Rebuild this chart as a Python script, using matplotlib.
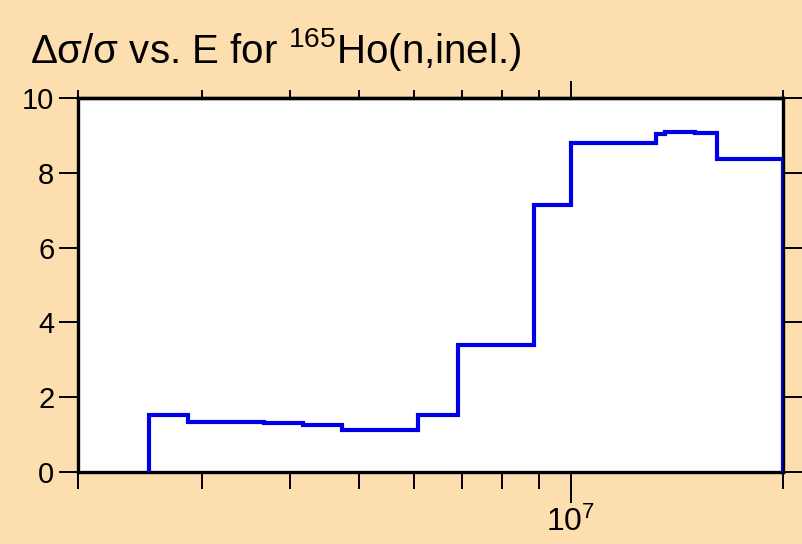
import matplotlib
matplotlib.use("Agg")
import matplotlib.pyplot as plt
from matplotlib import ticker

plt.rcParams['font.family'] = ['Liberation Sans', 'DejaVu Sans']
plt.rcParams['mathtext.fontset'] = 'custom'
plt.rcParams['mathtext.rm'] = 'Liberation Sans'
plt.rcParams['mathtext.it'] = 'Liberation Sans'

# energy bin edges (eV) and relative uncertainty (%)
edges = [2.52e6, 2.86e6, 3.24e6, 3.67e6, 4.17e6, 4.74e6, 6.08e6, 6.93e6,
         8.88e6, 1.0e7, 1.107e7, 1.2e7, 1.32e7, 1.36e7, 1.5e7, 1.61e7,
         1.71e7, 2.0e7]
rel_unc = [1.52, 1.34, 1.33, 1.32, 1.26, 1.12, 1.52, 3.40,
           7.14, 8.79, 8.80, 8.81, 9.05, 9.09, 9.06, 8.38, 8.37]

xlim = (2e6, 2e7)
ylim = (0, 10)
yticks = [0, 2, 4, 6, 8, 10]

bg = '#fddeae'
fig = plt.figure(figsize=(8.02, 5.44), dpi=100, facecolor=bg)
ax = fig.add_axes([78/802, 1-472/544, (783-78)/802, (472-98)/544])
ax.set_facecolor('white')

st = ax.stairs(rel_unc, edges, baseline=0, color='#0000e6', lw=3.0, zorder=3)
st.set_joinstyle('miter')

ax.set_xscale('log')
ax.set_xlim(*xlim)
ax.set_ylim(*ylim)
ax.set_yticks(yticks)
ax.xaxis.set_major_locator(ticker.LogLocator(base=10))
ax.xaxis.set_minor_locator(ticker.LogLocator(base=10, subs=range(2, 10)))
ax.xaxis.set_minor_formatter(ticker.NullFormatter())

for s in ax.spines.values():
    s.set_linewidth(2.4)

ax.tick_params(axis='y', which='major', direction='out', length=14, width=1.4,
               labelsize=21, pad=3, left=True, right=True)
ax.tick_params(axis='x', which='major', direction='out', length=22, width=1.4,
               labelsize=23, pad=3, bottom=True, top=False)
ax.tick_params(axis='x', which='minor', direction='out', length=12, width=1.4,
               bottom=True, top=False)

sec = ax.secondary_xaxis('top')
sec.xaxis.set_major_locator(ticker.LogLocator(base=10))
sec.xaxis.set_minor_locator(ticker.LogLocator(base=10, subs=range(2, 10)))
sec.xaxis.set_major_formatter(ticker.NullFormatter())
sec.xaxis.set_minor_formatter(ticker.NullFormatter())
sec.tick_params(which='major', direction='out', length=12, width=1.4)
sec.tick_params(which='minor', direction='out', length=6, width=1.4)
sec.spines['top'].set_linewidth(2.4)

fig.text(30/802, 1-63/544, r'Δσ/σ vs. E for $^{165}$Ho(n,inel.)',
         fontsize=29, ha='left', va='baseline')

fig.savefig('out.png', dpi=100, facecolor=bg)
